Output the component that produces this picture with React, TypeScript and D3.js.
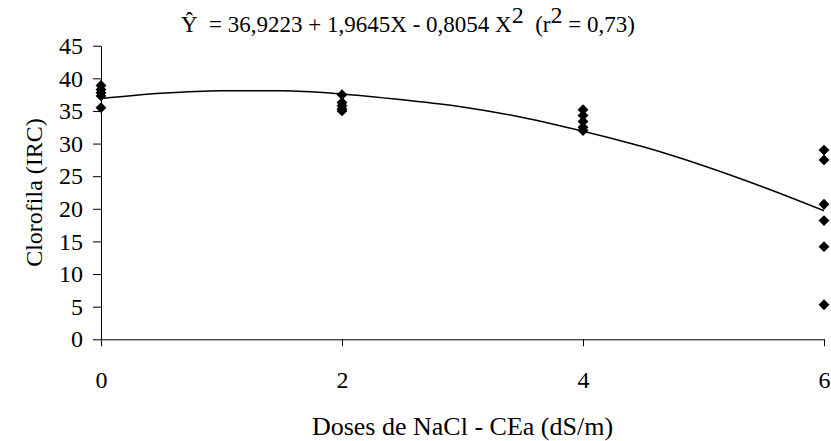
import React, { useRef, useEffect } from "react";
import * as d3 from "d3";

// dados
const doses = [0, 2, 4, 6];
const clorofila0 = [38.9, 38.3, 37.8, 37.3, 35.5];
const clorofila2 = [37.5, 36.3, 35.8, 35.3, 35.0];
const clorofila4 = [35.2, 34.3, 33.4, 32.5, 32.0];
const clorofila6 = [29.0, 27.5, 20.7, 18.2, 14.2, 5.3];

// curva ajustada
const curvaX = [0, 0.5, 1, 1.5, 2, 2.5, 3, 3.5, 4, 4.5, 5, 5.5, 6];
const curvaY = [36.9, 37.7, 38.1, 38.1, 37.6, 36.7, 35.6, 34.0, 31.9, 29.5, 26.6, 23.3, 19.7];

const yTicks = [0, 5, 10, 15, 20, 25, 30, 35, 40, 45];
const xTicks = [0, 2, 4, 6];

const FONT = '"Liberation Serif", "Times New Roman", Times, "DejaVu Serif", serif';

const App = () => {
  const svgRef = useRef<SVGSVGElement | null>(null);

  useEffect(() => {
    const svg = d3.select(svgRef.current);
    svg.selectAll("*").remove();

    const width = 831;
    const height = 441;
    const left = 101;
    const right = 824;
    const top = 45.7;
    const bottom = 339.3;

    svg.attr("width", width).attr("height", height).style("font-family", FONT);

    const x = d3.scaleLinear().domain([0, 6]).range([left, right]);
    const y = d3.scaleLinear().domain([0, 45]).range([bottom, top]);

    // eixo Y
    const yAxis = d3
      .axisLeft(y)
      .tickValues(yTicks)
      .tickFormat(d3.format("d"))
      .tickSize(8)
      .tickSizeOuter(0)
      .tickPadding(10);
    const gy = svg.append("g").attr("transform", `translate(${left},0)`).call(yAxis);
    gy.attr("font-family", null);
    gy.selectAll("text").style("font-family", FONT).attr("font-size", 24).attr("fill", "#000");
    gy.selectAll("line, path").attr("stroke", "#000");

    // eixo X
    const xAxis = d3
      .axisBottom(x)
      .tickValues(xTicks)
      .tickFormat(d3.format("d"))
      .tickSize(7)
      .tickSizeOuter(0)
      .tickPadding(25);
    const gx = svg.append("g").attr("transform", `translate(0,${bottom})`).call(xAxis);
    gx.attr("font-family", null);
    gx.selectAll("text").style("font-family", FONT).attr("font-size", 24).attr("fill", "#000");
    gx.selectAll("line, path").attr("stroke", "#000");

    // curva
    const pts = curvaX.map((d, i) => [d, curvaY[i]] as [number, number]);
    const line = d3
      .line<[number, number]>()
      .x((d) => x(d[0]))
      .y((d) => y(d[1]))
      .curve(d3.curveMonotoneX);
    svg
      .append("path")
      .attr("d", line(pts))
      .attr("fill", "none")
      .attr("stroke", "#000")
      .attr("stroke-width", 1.5);

    // pontos
    const series = [clorofila0, clorofila2, clorofila4, clorofila6];
    const points = series.flatMap((vals, i) => vals.map((v) => ({ x: doses[i], y: v })));
    const diamond = d3.symbol().type(d3.symbolDiamond2).size(75);
    svg
      .selectAll("path.pt")
      .data(points)
      .enter()
      .append("path")
      .attr("class", "pt")
      .attr("transform", (d) => `translate(${x(d.x)},${y(d.y)})`)
      .attr("d", diamond())
      .attr("fill", "#000");

    // títulos
    svg
      .append("text")
      .attr("x", (left + right) / 2)
      .attr("y", 435)
      .attr("text-anchor", "middle")
      .style("font-family", FONT)
      .attr("font-size", 26)
      .text("Doses de NaCl - CEa (dS/m)");

    svg
      .append("text")
      .attr("transform", `translate(42,${(top + bottom) / 2}) rotate(-90)`)
      .attr("text-anchor", "middle")
      .style("font-family", FONT)
      .attr("font-size", 24)
      .text("Clorofila (IRC)");

    // equação
    const eq = svg
      .append("text")
      .attr("x", 181)
      .attr("y", 32)
      .style("font-family", FONT)
      .attr("font-size", 23)
      .attr("fill", "#000")
      .attr("xml:space", "preserve")
      .style("white-space", "pre");
    eq.append("tspan").text("Ŷ  = 36,9223 + 1,9645X - 0,8054 X");
    eq.append("tspan").attr("dy", -9).attr("font-size", 24).text("2");
    eq.append("tspan").attr("dy", 9).text("  (r");
    eq.append("tspan").attr("dy", -9).attr("font-size", 24).text("2");
    eq.append("tspan").attr("dy", 9).text(" = 0,73)");
  }, []);

  return (
    <svg
      ref={svgRef}
      style={{ position: "absolute", left: 0, top: 0, background: "#fff" }}
    />
  );
};

export default App;
